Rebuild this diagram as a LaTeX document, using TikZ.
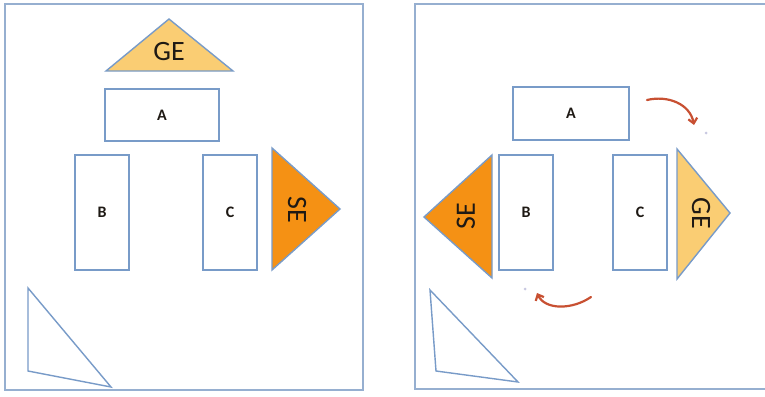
\documentclass[tikz,border=0pt]{standalone}
\usepackage{fontspec}
\setmainfont{Carlito}
\usetikzlibrary{arrows.meta}
\begin{document}
\begin{tikzpicture}[x=1pt,y=-1pt,
  frame/.style={draw=framec,line width=2pt},
  box/.style={draw=boxc,line width=1.7pt,fill=white,minimum width=#1,inner sep=0pt,text=txtc,font=\fontsize{16}{18}\selectfont\bfseries},
  tri/.style={draw=boxc,line width=1.4pt,line join=miter},
  big/.style={inner sep=0pt,text=txtc,font=\fontsize{28}{30}\selectfont},
  turn/.style={draw=arrc,line width=2.2pt,line cap=round,-{Straight Barb[length=5pt,width=9pt,line width=2.2pt]}},
  dotty/.style={circle,fill=dotc,inner sep=0pt,minimum size=3pt}]
\definecolor{framec}{RGB}{150,175,208}
\definecolor{boxc}{RGB}{120,155,200}
\definecolor{seo}{RGB}{245,145,20}
\definecolor{gey}{RGB}{250,205,115}
\definecolor{arrc}{RGB}{200,80,50}
\definecolor{dotc}{RGB}{200,200,225}
\definecolor{txtc}{RGB}{30,25,20}
\useasboundingbox (0,0) rectangle (765,396);
\fill[white] (0,0) rectangle (765,396);
% frames
\draw[frame] (5,4) rectangle (363,390);
\draw[frame] (415,4) rectangle (775,389);
% ---- left panel ----
\draw[tri,fill=gey] (106,71) -- (169,19) -- (233,71) -- cycle;
\node[big] (geL) at (169,52) {GE};
\node[box=114pt,minimum height=52pt] (aL) at (162,115) {A};
\node[box=54pt,minimum height=115pt] (bL) at (102,212.5) {B};
\node[box=54pt,minimum height=115pt] (cL) at (230,212.5) {C};
\draw[tri,fill=seo] (272,148) -- (340,209) -- (272,270) -- cycle;
\node[big,rotate=-90] (seL) at (297,210) {SE};
\draw[tri] (28,288) -- (111,387) -- (28,371) -- cycle;
% ---- right panel ----
\node[box=116pt,minimum height=53pt] (aR) at (571,113.5) {A};
\node[box=54pt,minimum height=115pt] (bR) at (526,212.5) {B};
\node[box=54pt,minimum height=115pt] (cR) at (640,212.5) {C};
\draw[tri,fill=seo] (492,155) -- (424,217) -- (492,278) -- cycle;
\node[big,rotate=90] (seR) at (466,216) {SE};
\draw[tri,fill=gey] (677,149) -- (730,213) -- (677,279) -- cycle;
\node[big,rotate=-90] (geR) at (701,213) {GE};
\draw[tri] (430,290) -- (518,382) -- (436,371) -- cycle;
\node[dotty] (d1) at (706,133) {};
\node[dotty] (d2) at (525,289) {};
\coordinate (s1) at (647,100);
\coordinate (e1) at (694,125);
\coordinate (s2) at (591,297);
\coordinate (e2) at (537,293);
\draw[turn] (s1) .. controls (668,95) and (690,104) .. (e1);
\draw[turn] (s2) .. controls (572,310) and (545,310) .. (e2);
\end{tikzpicture}
\end{document}
